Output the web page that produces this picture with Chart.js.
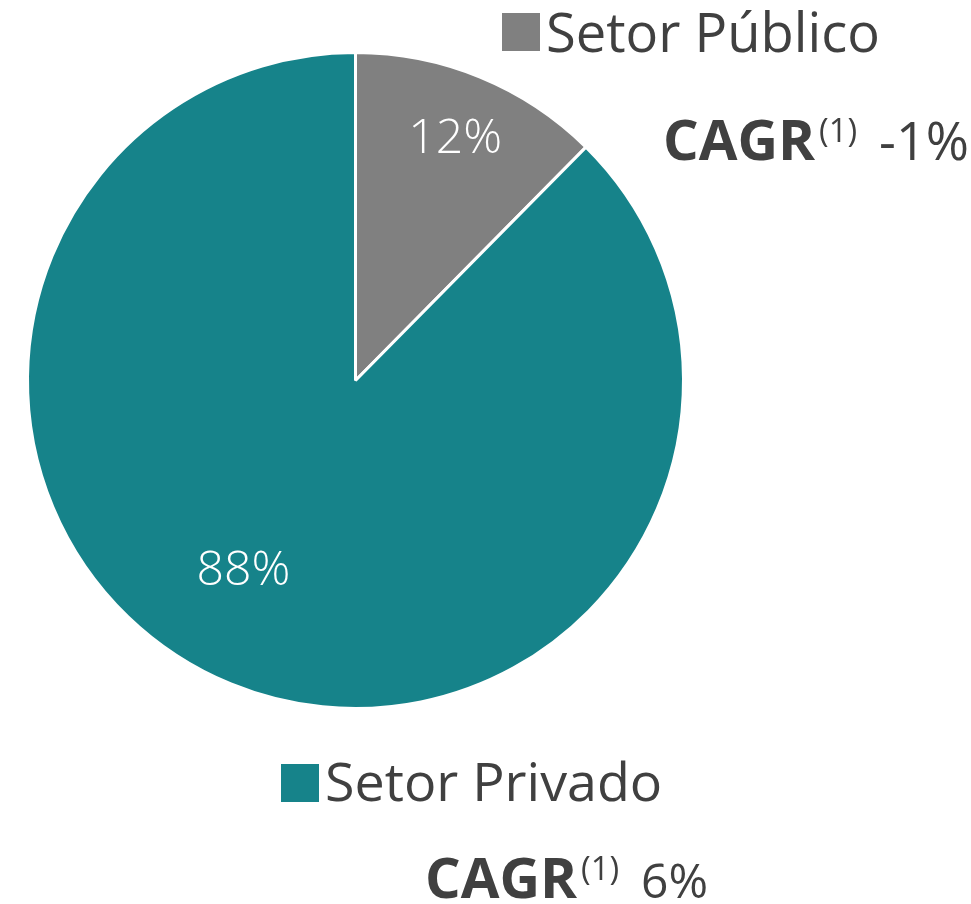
<!DOCTYPE html>
<html>
<head>
<meta charset="utf-8">
<script src="https://cdn.jsdelivr.net/npm/chart.js@4.4.1/dist/chart.umd.min.js"></script>
<style>
  html, body { margin: 0; padding: 0; background: #ffffff; }
  #wrap { position: relative; width: 971px; height: 904px; }
</style>
</head>
<body>
<div id="wrap"><canvas id="c" width="971" height="904"></canvas></div>
<script>
// ---- data ----
const categories = ["Setor Público", "Setor Privado"];
const shares = [12.4, 87.6];
const shareLabels = ["12%", "88%"];
const cagrLabels = ["-1%", "6%"];
const colors = ["#808080", "#16838A"];

const FONT = "'Open Sans', 'DejaVu Sans', sans-serif";
const TEXT = "#404040";

function fitFont(ctx, text, weight, targetWidth, maxSize) {
  let size = maxSize;
  ctx.font = weight + " " + size + "px " + FONT;
  const w = ctx.measureText(text).width;
  size = Math.min(maxSize, size * targetWidth / w);
  return weight + " " + size.toFixed(1) + "px " + FONT;
}

const overlay = {
  id: 'overlay',
  afterDraw(chart) {
    const ctx = chart.ctx;
    const meta = chart.getDatasetMeta(0);
    ctx.save();
    // slice labels
    const radFrac = [0.80, 0.67];
    const angOff = [0, 0.145];
    meta.data.forEach((arc, i) => {
      const mid = (arc.startAngle + arc.endAngle) / 2 + angOff[i];
      const r = arc.outerRadius * radFrac[i];
      const x = arc.x + Math.cos(mid) * r;
      const y = arc.y + Math.sin(mid) * r;
      ctx.fillStyle = "#ffffff";
      ctx.font = fitFont(ctx, shareLabels[i], "300", 94, 54);
      ctx.textAlign = "center";
      ctx.textBaseline = "middle";
      ctx.fillText(shareLabels[i], x, y + 2);
    });
    // legend items + CAGR
    const leg = [
      { sq: [502, 13, 38], tx: 546, base: 52, w: 334, cagr: [663, 160] },
      { sq: [281, 764, 38], tx: 325, base: 801, w: 337, cagr: [425, 898] }
    ];
    leg.forEach((L, i) => {
      ctx.fillStyle = colors[i];
      ctx.fillRect(L.sq[0], L.sq[1], L.sq[2], L.sq[2]);
      ctx.fillStyle = TEXT;
      ctx.textAlign = "left";
      ctx.textBaseline = "alphabetic";
      ctx.font = fitFont(ctx, categories[i], "400", L.w, 70);
      ctx.fillText(categories[i], L.tx, L.base);
      // CAGR
      let x = L.cagr[0];
      const by = L.cagr[1];
      ctx.font = fitFont(ctx, "CAGR", "700", 152, 70);
      ctx.fillText("CAGR", x, by);
      x += ctx.measureText("CAGR").width + 4;
      ctx.font = fitFont(ctx, "(1)", "400", 38, 34);
      ctx.fillText("(1)", x, by - 18);
      x += ctx.measureText("(1)").width + 22;
      ctx.font = fitFont(ctx, cagrLabels[i], "400", i === 0 ? 90 : 67, 66);
      ctx.fillText(cagrLabels[i], x, by);
    });
    ctx.restore();
  }
};

new Chart(document.getElementById('c'), {
  type: 'pie',
  data: {
    labels: categories,
    datasets: [{
      data: shares,
      backgroundColor: colors,
      borderColor: "#ffffff",
      borderWidth: 3
    }]
  },
  options: {
    responsive: false,
    animation: false,
    layout: { padding: { left: 26, top: 51, right: 286, bottom: 194 } },
    plugins: { legend: { display: false }, tooltip: { enabled: false } }
  },
  plugins: [overlay]
});
</script>
</body>
</html>
